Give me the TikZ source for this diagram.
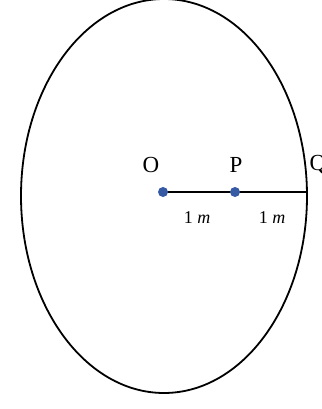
\documentclass[tikz,border=0pt]{standalone}
\usepackage{fontspec}
\setmainfont{Liberation Serif}
\usetikzlibrary{positioning}
\definecolor{dotblue}{RGB}{55,90,165}
\begin{document}
\begin{tikzpicture}[x=1pt,y=-1pt]
    \useasboundingbox (0,0) rectangle (321,409);
    % the circle, drawn a little stretched
    \draw[line width=1.8pt] (164,196) ellipse (143 and 197);
    % the points on the radius
    \coordinate (O) at (163,192);
    \coordinate (P) at (235,192);
    \coordinate (Q) at (307,192);
    \draw[line width=2pt] (O) -- (P) -- (Q);
    \fill[dotblue] (O) circle (5);
    \fill[dotblue] (P) circle (5);
    % point labels
    \node[font=\fontsize{23}{23}\selectfont] (labO) at (151,165) {O};
    \node[font=\fontsize{23}{23}\selectfont] (labP) at (236,165) {P};
    \node[font=\fontsize{23}{23}\selectfont] (labQ) at (318,165) {Q};
    % distances
    \node[font=\fontsize{18}{18}\selectfont] (dOP) at (197,218) {1 \textit{m}};
    \node[font=\fontsize{18}{18}\selectfont] (dPQ) at (272,218) {1 \textit{m}};
  \end{tikzpicture}
\end{document}
